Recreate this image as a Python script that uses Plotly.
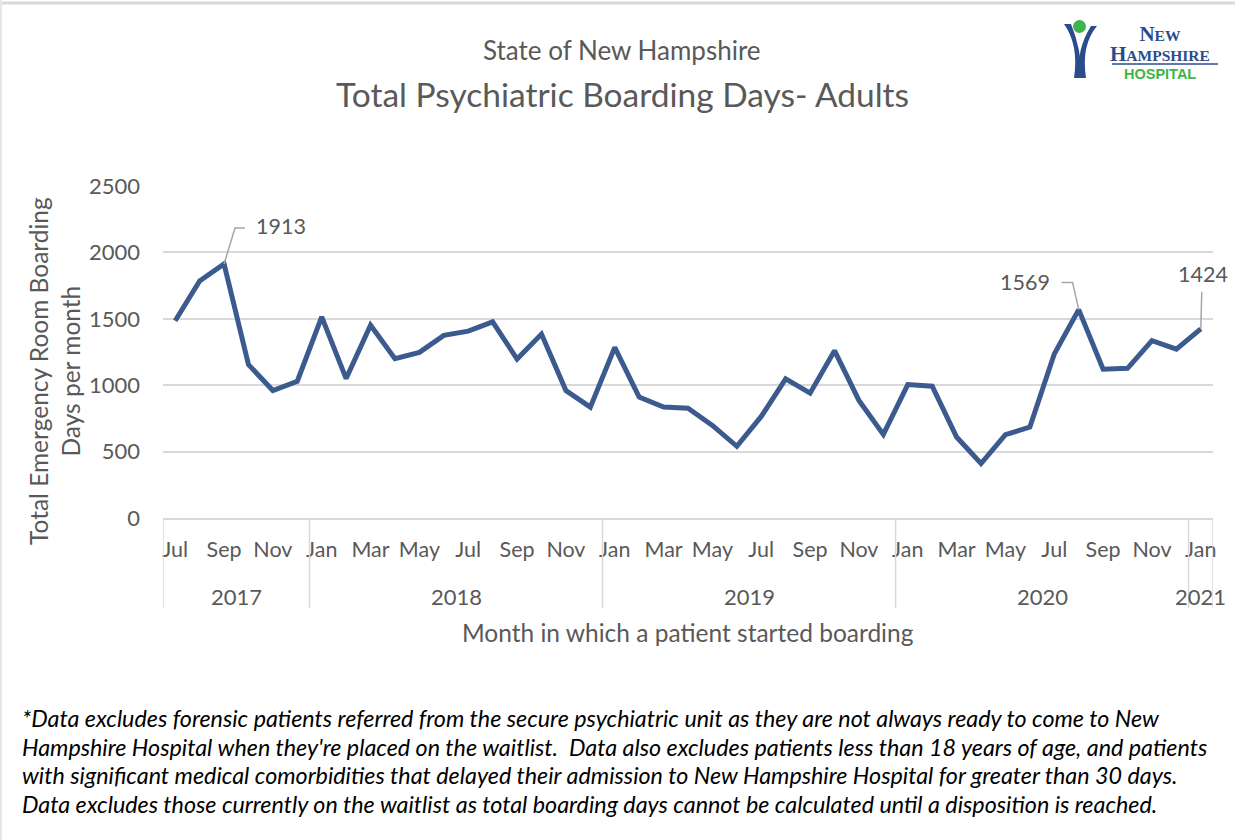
import plotly.graph_objects as go

# ---------------- data ----------------
months = ["Jul", "Aug", "Sep", "Oct", "Nov", "Dec",
          "Jan", "Feb", "Mar", "Apr", "May", "Jun", "Jul", "Aug", "Sep", "Oct", "Nov", "Dec",
          "Jan", "Feb", "Mar", "Apr", "May", "Jun", "Jul", "Aug", "Sep", "Oct", "Nov", "Dec",
          "Jan", "Feb", "Mar", "Apr", "May", "Jun", "Jul", "Aug", "Sep", "Oct", "Nov", "Dec",
          "Jan"]
years = ["2017"] * 6 + ["2018"] * 12 + ["2019"] * 12 + ["2020"] * 12 + ["2021"]
boarding_days = [1485, 1785, 1913, 1155, 960, 1030,
                 1515, 1050, 1452, 1200, 1247, 1375, 1407, 1477, 1197, 1385, 960, 835,
                 1285, 910, 835, 827, 697, 540, 765, 1047, 940, 1260, 885, 630,
                 1005, 992, 610, 410, 627, 685, 1235, 1569, 1120, 1127, 1335, 1272,
                 1424]
y_ticks = [0, 500, 1000, 1500, 2000, 2500]

# ---------------- geometry helpers ----------------
W, H = 1235, 840
L, R, T, B = 163, 1213, 186, 518


def px(x):
    return (x - L) / (R - L)


def py(y):
    return (B - y) / (B - T)


FONT = "Lato"
GREY = "#595959"
GRID = "#d9d9d9"
LINE = "#3b5a8e"

idx = list(range(len(boarding_days)))

fig = go.Figure()
fig.add_trace(go.Scatter(x=idx, y=boarding_days, mode="lines",
                         line=dict(color=LINE, width=5), hoverinfo="skip",
                         showlegend=False))

shapes = []
annotations = []


def note(text, x, y, size, color=GREY, family=FONT, xref="paper", yref="paper",
         xanchor="center", yanchor="middle", **kw):
    annotations.append(dict(text=text, x=x, y=y, xref=xref, yref=yref, showarrow=False,
                            xanchor=xanchor, yanchor=yanchor,
                            font=dict(family=family, size=size, color=color), **kw))


# titles
note("State of New Hampshire", px(622), py(50), 26)
note("Total Psychiatric Boarding Days- Adults", px(622), py(94), 33.5)

# axis titles
note("Total Emergency Room Boarding<br>Days per month", px(54), py(371), 24.5, textangle=-90)
note("Month in which a patient started boarding", px(688), py(632), 24.5)

# year group labels and dividers
groups = []
for i, yr in enumerate(years):
    if not groups or groups[-1][0] != yr:
        groups.append([yr, i, i])
    else:
        groups[-1][2] = i
for yr, a, b in groups:
    note(yr, (a + b) / 2, py(596), 22, xref="x")
    shapes.append(dict(type="line", xref="x", yref="paper", x0=a - 0.5, x1=a - 0.5,
                       y0=0, y1=py(608), line=dict(color=GRID, width=1.5)))
last = len(idx) - 1
shapes.append(dict(type="line", xref="x", yref="paper", x0=last + 0.5, x1=last + 0.5,
                   y0=0, y1=py(608), line=dict(color=GRID, width=1.5)))

# data labels with leader lines
LEAD = "#a6a6a6"
i = 2
v = boarding_days[i]
shapes.append(dict(type="path", xref="x", yref="y",
                   path=f"M {i},{v} L {i + 0.45},{v + 270} L {i + 0.85},{v + 270}",
                   line=dict(color=LEAD, width=1.5)))
note(str(v), i + 2.35, v + 285, 21.5, xref="x", yref="y")
i = 37
v = boarding_days[i]
shapes.append(dict(type="path", xref="x", yref="y",
                   path=f"M {i},{v} L {i - 0.25},{v + 205} L {i - 0.7},{v + 205}",
                   line=dict(color=LEAD, width=1.5)))
note(str(v), i - 2.2, v + 210, 21.5, xref="x", yref="y")
i = 42
v = boarding_days[i]
shapes.append(dict(type="line", xref="x", yref="y", x0=i, y0=v, x1=i + 0.04, y1=v + 280,
                   line=dict(color=LEAD, width=1.5)))
note(str(v), i + 0.1, v + 410, 21.5, xref="x", yref="y")

# footnote
foot = ["*Data excludes forensic patients referred from the secure psychiatric unit as they are not always ready to come to New",
        "Hampshire Hospital when they're placed on the waitlist.  Data also excludes patients less than 18 years of age, and patients",
        "with significant medical comorbidities that delayed their admission to New Hampshire Hospital for greater than 30 days.",
        "Data excludes those currently on the waitlist as total boarding days cannot be calculated until a disposition is reached."]
for k, line in enumerate(foot):
    note(f"<i>{line}</i>", px(20), py(718 + 28.5 * k), 23.3, color="#000000", xanchor="left")

# logo (simplified)
NAVY = "#2b4c8c"
GREEN = "#3db54a"
shapes.append(dict(type="circle", xref="paper", yref="paper", x0=px(1073), x1=px(1086),
                   y0=py(33), y1=py(20), fillcolor=GREEN, line=dict(width=0)))
shapes.append(dict(type="path", xref="paper", yref="paper",
                   path=(f"M {px(1064)},{py(24)} Q {px(1079)},{py(45)} {px(1074)},{py(78)} "
                         f"L {px(1082)},{py(78)} Q {px(1081)},{py(48)} {px(1071)},{py(24)} Z"),
                   fillcolor=NAVY, line=dict(width=0)))
shapes.append(dict(type="path", xref="paper", yref="paper",
                   path=(f"M {px(1097)},{py(26)} Q {px(1081)},{py(45)} {px(1086)},{py(78)} "
                         f"L {px(1078)},{py(78)} Q {px(1077)},{py(48)} {px(1091)},{py(26)} Z"),
                   fillcolor=NAVY, line=dict(width=0)))
note("<b><span style='font-size:21px'>N</span>EW<br><span style='font-size:21px'>H</span>AMPSHIRE</b>",
     px(1160), py(44), 15.5, color=NAVY, family="Liberation Serif")
shapes.append(dict(type="line", xref="paper", yref="paper", x0=px(1112), x1=px(1218),
                   y0=py(64), y1=py(64), line=dict(color=NAVY, width=1.5)))
note("<b>HOSPITAL</b>", px(1160), py(74), 14.5, color=GREEN, family="Liberation Sans")

# outer border lines (top/left)
shapes.append(dict(type="line", xref="paper", yref="paper", x0=px(0), x1=px(W), y0=py(3), y1=py(3),
                   line=dict(color="#d9d9d9", width=3)))
shapes.append(dict(type="line", xref="paper", yref="paper", x0=px(1), x1=px(1), y0=py(0), y1=py(H),
                   line=dict(color="#e6e6e6", width=2)))

fig.update_layout(
    width=W, height=H,
    margin=dict(l=L, r=W - R, t=T, b=H - B, pad=0),
    paper_bgcolor="white", plot_bgcolor="white",
    shapes=shapes, annotations=annotations, showlegend=False,
    xaxis=dict(range=[-0.5, last + 0.5], tickmode="array", tickvals=idx[::2], ticktext=months[::2],
               showgrid=False, zeroline=False, showline=True, linecolor=GRID, linewidth=1.5,
               ticks="", ticklabelstandoff=11, tickfont=dict(family=FONT, size=21.5, color=GREY)),
    yaxis=dict(range=[0, 2500], tickmode="array", tickvals=y_ticks, showgrid=True, gridcolor=GRID,
               gridwidth=1.5, zeroline=False, showline=False, ticks="", ticklabelstandoff=22,
               tickfont=dict(family=FONT, size=22, color=GREY)),
)

fig.write_html("out.html", config={"displayModeBar": False},
               post_script="document.body.style.margin='0px';")
